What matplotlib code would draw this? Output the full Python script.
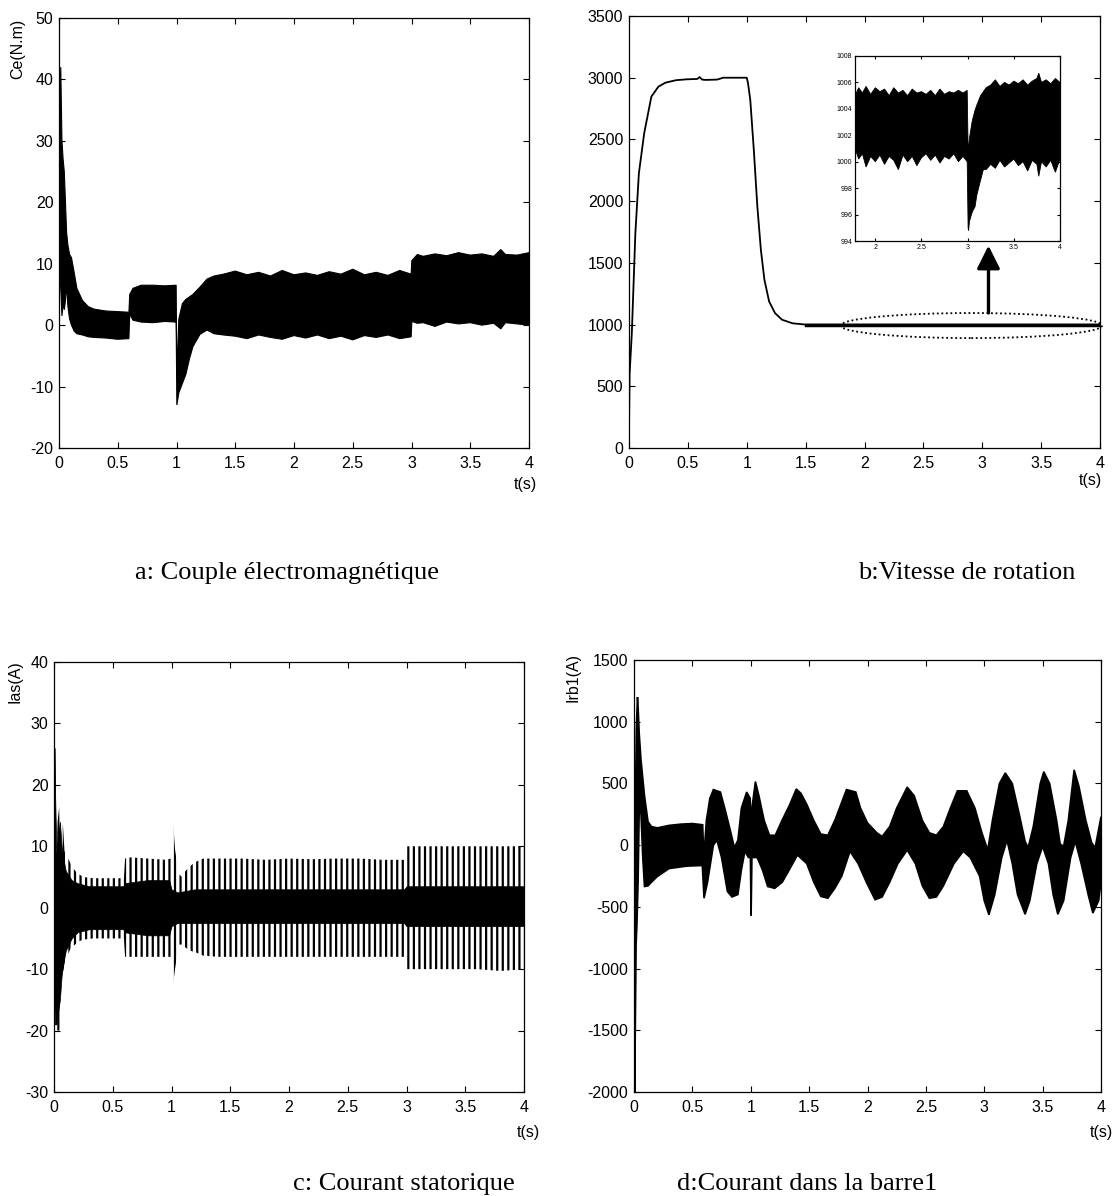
import numpy as np
import matplotlib
matplotlib.use("Agg")
import matplotlib.pyplot as plt
from matplotlib.patches import Ellipse
from matplotlib.ticker import FuncFormatter

# a: couple electromagnetique, enveloppe haute / basse
ce_t = [0, 0.008, 0.015, 0.025, 0.035, 0.045, 0.055, 0.065, 0.076, 0.09, 0.106, 0.13, 0.152, 0.2, 0.25, 0.3,
        0.4, 0.5, 0.595, 0.602, 0.63, 0.7, 0.8, 0.9, 0.997, 1.003, 1.02, 1.05, 1.08, 1.11, 1.14, 1.2, 1.26, 1.32,
        1.4, 1.5, 1.6, 1.7, 1.8, 1.9, 2.0, 2.1, 2.2, 2.3, 2.4, 2.5, 2.6, 2.7, 2.8, 2.9, 2.997, 3.003, 3.05, 3.1,
        3.2, 3.3, 3.4, 3.5, 3.6, 3.7, 3.76, 3.8, 3.9, 4.0]
ce_up = [10, 38, 42, 30, 27, 25, 20, 15, 13, 11.5, 11, 8.5, 6, 4, 3, 2.6,
         2.3, 2.2, 2.1, 5, 6, 6.5, 6.5, 6.4, 6.5, -8, 1, 3.5, 4.2, 4.6, 5, 6.2, 7.5, 8,
         8.3, 8.8, 8.2, 8.6, 8.0, 8.9, 8.2, 8.5, 8.1, 8.7, 8.3, 9.1, 8.2, 8.6, 8.1, 8.9, 8.3, 10.5, 11.5, 11.2,
         11.6, 11.3, 11.8, 11.4, 11.6, 11.2, 12.3, 11.5, 11.4, 11.8]
ce_lo = [8, 8, 6, 1.5, 3.5, 2.5, 4, 6.5, 3, 1, 0, -1, -1.4, -1.6, -1.9, -2,
         -2.1, -2.3, -2.2, 1.8, 0.8, 0.5, 0.4, 0.6, 0.5, -13, -11, -9.5, -8, -5.5, -3.5, -1.5, -0.8, -1.4,
         -1.6, -1.8, -2.2, -1.6, -2.0, -2.3, -1.7, -2.1, -1.6, -2.2, -1.8, -2.4, -1.7, -2.0, -1.6, -2.2, -1.9, 0.6, 0.3, 0.4,
         -0.2, 0.5, 0.2, 0.4, 0.0, 0.3, -0.6, 0.4, 0.2, 0.0]

# b: vitesse de rotation
sp_t = [0, 0.005, 0.024, 0.054, 0.084, 0.129, 0.19, 0.25, 0.31, 0.4, 0.49, 0.58, 0.6, 0.62, 0.65, 0.75, 0.8,
        0.9, 1.0, 1.01, 1.03, 1.06, 1.09, 1.12, 1.15, 1.19, 1.24, 1.3, 1.39, 1.5, 2.0, 2.5, 3.0, 3.5, 4.0]
sp = [150, 600, 930, 1740, 2226, 2550, 2847, 2928, 2960, 2980, 2987, 2990, 3005, 2985, 2982, 2985, 3000,
      3000, 3000, 2960, 2820, 2415, 1956, 1605, 1363, 1187, 1093, 1039, 1010, 1000, 1000, 1000, 1000, 1000, 1000]

# zoom de la vitesse (encart)
in_t = [1.78, 1.82, 1.86, 1.9, 1.95, 2.0, 2.05, 2.1, 2.15, 2.2, 2.25, 2.3, 2.35, 2.4, 2.45, 2.5, 2.55, 2.6,
        2.65, 2.7, 2.75, 2.8, 2.85, 2.9, 2.95, 2.995, 3.005, 3.01, 3.02, 3.05, 3.08, 3.1, 3.14, 3.17, 3.2, 3.25,
        3.3, 3.35, 3.4, 3.45, 3.5, 3.55, 3.6, 3.65, 3.7, 3.75, 3.77, 3.8, 3.85, 3.9, 3.95, 4.0]
in_up = [1005.0, 1005.6, 1005.2, 1005.7, 1005.1, 1005.6, 1005.3, 1005.5, 1005.0, 1005.6, 1005.2, 1005.4,
         1005.0, 1005.5, 1005.2, 1005.3, 1005.1, 1005.4, 1005.0, 1005.5, 1005.1, 1005.3, 1005.2, 1005.4,
         1005.2, 1005.4, 1001.0, 1001.0, 1001.8, 1003.1, 1003.9, 1004.3, 1005.0, 1005.3, 1005.6, 1005.8,
         1006.2, 1005.7, 1006.0, 1005.8, 1006.1, 1005.9, 1006.2, 1005.8, 1006.1, 1006.3, 1006.7, 1006.0,
         1006.2, 1005.9, 1006.3, 1006.0]
in_lo = [1001.0, 1000.2, 1000.6, 999.6, 1000.4, 1000.0, 1000.5, 999.8, 1000.4, 1000.1, 999.4, 1000.5,
         1000.0, 1000.4, 999.7, 1000.3, 1000.6, 1000.1, 1000.5, 999.9, 1000.4, 1000.2, 1000.6, 1000.0,
         1000.4, 1000.0, 995.0, 994.8, 995.5, 996.2, 996.6, 997.5, 998.6, 999.4, 999.4, 999.8,
         999.5, 1000.1, 999.6, 999.9, 1000.2, 999.7, 1000.0, 999.3, 1000.1, 999.8, 998.9, 1000.0,
         999.6, 1000.1, 999.2, 1000.2]

# c: courant statorique (enveloppe des oscillations + coeur dense)
ias_t = [0, 0.005, 0.01, 0.02, 0.03, 0.045, 0.055, 0.065, 0.076, 0.09, 0.1, 0.12, 0.146, 0.18, 0.207, 0.25,
         0.33, 0.45, 0.57, 0.595, 0.605, 0.65, 0.8, 0.95, 0.995, 1.0, 1.01, 1.03, 1.06, 1.09, 1.12, 1.16, 1.21,
         1.27, 1.4, 1.6, 1.8, 2.0, 2.2, 2.4, 2.6, 2.8, 2.95, 2.995, 3.005, 3.2, 3.4, 3.6, 3.8, 4.0]
ias_up = [0, 27.5, 27.5, 10, 14, 16.5, 12, 13.5, 13.5, 9, 9.8, 8, 7, 6, 5.5, 5, 4.8, 4.8, 4.8, 4.8,
          8, 8.2, 8, 7.8, 8, 15.2, 15, 9.5, 5.5, 5, 6, 6.8, 7.5, 8, 8, 8, 7.8, 8, 7.9, 8,
          8, 7.8, 7.8, 7.8, 10, 10, 10, 10, 10, 10]
ias_lo = [0, -17, -20, -20, -20, -20, -20, -12, -10.5, -9, -8, -7.5, -6.5, -6, -5.5, -5.2, -5, -5, -5, -5,
          -8, -8, -8, -8, -8, -13, -13, -10, -6, -6, -6.5, -7, -7.3, -7.8, -8, -8, -8, -8, -8, -8,
          -8, -8, -8, -8, -10, -10, -10, -10, -10.3, -10]
core_t = [0, 0.004, 0.008, 0.02, 0.035, 0.05, 0.065, 0.08, 0.1, 0.15, 0.2, 0.3, 0.45, 0.59, 0.6, 0.8, 0.98,
          1.0, 1.05, 1.2, 1.5, 2.0, 2.5, 2.98, 3.0, 3.5, 4.0]
core_up = [0, 26, 20, 9, 12, 14, 10, 8, 6, 4.5, 4, 3.5, 3.5, 3.5, 4, 4.5, 4.5, 3, 2.5, 3, 3, 3, 3, 3, 3.5, 3.5, 3.5]
core_lo = [0, -16, -19, -19, -17, -15, -11, -9, -7, -5, -4, -3.5, -3.5, -3.5, -4, -4.5, -4.5, -3, -2.5, -2.5, -2.5,
           -2.5, -2.5, -2.5, -3, -3, -3]

# d: courant dans la barre 1
irb_t_up = [0.0, 0.006, 0.012, 0.02, 0.03, 0.036, 0.045, 0.06, 0.09, 0.12, 0.15, 0.2, 0.3, 0.4, 0.5, 0.588,
            0.598, 0.62, 0.65, 0.68, 0.74, 0.78, 0.83, 0.86, 0.89, 0.92, 0.965, 0.995, 1.0, 1.01, 1.04, 1.07,
            1.115, 1.16, 1.21, 1.27, 1.33, 1.39, 1.43, 1.48, 1.54, 1.6, 1.66, 1.72, 1.78, 1.82, 1.9, 1.94, 2.0,
            2.08, 2.125, 2.19, 2.25, 2.34, 2.4, 2.47, 2.53, 2.59, 2.65, 2.71, 2.77, 2.85, 2.92, 2.98, 3.03,
            3.07, 3.13, 3.18, 3.24, 3.30, 3.35, 3.376, 3.42, 3.48, 3.51, 3.56, 3.62, 3.65, 3.68, 3.72, 3.77,
            3.81, 3.87, 3.92, 3.95, 4.0]
irb_up = [-700, -500, 300, 950, 1200, 1100, 900, 690, 400, 190, 150, 140, 160, 170, 175, 165,
          -100, 200, 380, 450, 430, 290, 100, -20, 40, 300, 430, 380, 150, 300, 515, 400,
          200, 80, 80, 205, 320, 455, 420, 330, 200, 90, 80, 200, 350, 450, 430, 300, 180,
          100, 70, 150, 300, 470, 400, 200, 100, 80, 150, 300, 440, 440, 300, 100, -40,
          200, 500, 585, 500, 250, 30, -20, 150, 500, 595, 500, 200, 10, -10, 200, 610,
          480, 200, 20, -20, 230]
irb_t_lo = [0.0, 0.006, 0.012, 0.018, 0.025, 0.035, 0.045, 0.06, 0.075, 0.09, 0.12, 0.15, 0.2, 0.3, 0.45,
            0.585, 0.6, 0.63, 0.68, 0.71, 0.75, 0.8, 0.84, 0.89, 0.92, 0.95, 0.98, 0.997, 1.003, 1.01, 1.055,
            1.10, 1.145, 1.205, 1.27, 1.33, 1.40, 1.48, 1.54, 1.6, 1.66, 1.72, 1.78, 1.85, 1.92, 1.99, 2.065,
            2.125, 2.19, 2.26, 2.34, 2.41, 2.47, 2.53, 2.59, 2.65, 2.74, 2.82, 2.88, 2.96, 3.0, 3.04, 3.09,
            3.15, 3.195, 3.24, 3.285, 3.35, 3.39, 3.45, 3.50, 3.55, 3.59, 3.63, 3.68, 3.74, 3.78, 3.83, 3.89,
            3.93, 3.98, 4.0]
irb_lo = [-1300, -2000, -1400, -800, -650, -300, 300, 250, -100, -335, -330, -300, -254, -190, -170,
          -165, -430, -300, 0, 40, -100, -375, -420, -400, -200, -50, -100, -100, -570, -100, -100,
          -200, -335, -350, -300, -200, -80, -150, -300, -415, -430, -350, -250, -50, -150, -300, -442,
          -420, -300, -150, -40, -150, -330, -430, -420, -330, -150, -50, -100, -250, -450, -564, -400,
          -100, 40, -150, -400, -560, -450, -150, -10, -150, -400, -560, -450, -100, 30, -150, -400,
          -550, -450, -300]

W, H = 1112, 1196
tick_font = ['Liberation Sans Narrow', 'Liberation Sans', 'DejaVu Sans']
plt.rcParams['font.family'] = tick_font
plt.rcParams['hatch.linewidth'] = 1.6

fig = plt.figure(figsize=(W / 100, H / 100), dpi=100)


def px_axes(x0, y0, x1, y1):
    return fig.add_axes([x0 / W, 1 - y1 / H, (x1 - x0) / W, (y1 - y0) / H])


def style(ax, xlim, ylim, yticks, fs=11.5):
    ax.set_xlim(xlim)
    ax.set_ylim(ylim)
    ax.set_yticks(yticks)
    ax.tick_params(direction='in', top=True, right=True, length=4, width=0.8, labelsize=fs)
    ax.tick_params(axis='x', pad=6)
    ax.tick_params(axis='y', pad=4)
    ax.xaxis.set_major_formatter(FuncFormatter(lambda v, p: '%g' % v))
    ax.yaxis.set_major_formatter(FuncFormatter(lambda v, p: '%g' % v))
    for s in ax.spines.values():
        s.set_linewidth(0.9)


def envelope(ax, t_up, up, t_lo, lo, **kw):
    xs = np.r_[t_up, t_lo[::-1]]
    ys = np.r_[up, lo[::-1]]
    ax.fill(xs, ys, **kw)


# a
ax_a = px_axes(59, 18, 529, 448)
envelope(ax_a, ce_t, ce_up, ce_t, ce_lo, color='black', lw=0.8)
style(ax_a, (0, 4), (-20, 50), np.arange(-20, 51, 10))
ax_a.set_xticks(np.arange(0, 4.01, 0.5))

# b
ax_b = px_axes(629, 16, 1100, 448)
ax_b.plot(sp_t, sp, color='black', lw=1.3)
ax_b.plot(sp_t[-6:], sp[-6:], color='black', lw=2.5)
style(ax_b, (0, 4), (0, 3500), np.arange(0, 3501, 500))
ax_b.set_xticks(np.arange(0, 4.01, 0.5))
ax_b.add_patch(Ellipse((2.907, 992), 2.22, 203, fill=False, ls=(0, (1, 1.5)), lw=1.3,
                       edgecolor='black', clip_on=False))
ax_b.annotate('', xy=(3.053, 1640), xytext=(3.053, 1094),
              arrowprops=dict(arrowstyle='-|>,head_length=0.7,head_width=0.35', lw=2.4,
                              color='black', mutation_scale=20, shrinkA=0, shrinkB=0))

ax_in = px_axes(855, 56, 1060, 241)
envelope(ax_in, in_t, in_up, in_t, in_lo, color='black', lw=0.6)
style(ax_in, (1.78, 4), (994, 1008), np.arange(994, 1009, 2), fs=5)
ax_in.set_xticks([2, 2.5, 3, 3.5, 4])
ax_in.tick_params(length=2, pad=2)

# c
ax_c = px_axes(54, 662, 524, 1092)
ax_c.fill_between(ias_t, ias_lo, ias_up, facecolor='white', edgecolor='black', hatch='|||', lw=0)
ax_c.fill_between(core_t, core_lo, core_up, color='black', lw=0.5)
style(ax_c, (0, 4), (-30, 40), np.arange(-30, 41, 10))
ax_c.set_xticks(np.arange(0, 4.01, 0.5))

# d
ax_d = px_axes(634, 660, 1101, 1092)
envelope(ax_d, irb_t_up, irb_up, irb_t_lo, irb_lo, color='black', lw=1.2)
style(ax_d, (0, 4), (-2000, 1500), np.arange(-2000, 1501, 500))
ax_d.set_xticks(np.arange(0, 4.01, 0.5))

# labels des axes
lab = dict(fontsize=11.5, family=tick_font)
fig.text(18 / W, 1 - 19 / H, 'Ce(N.m)', rotation=90, ha='center', va='top', **lab)
fig.text(15 / W, 1 - 660 / H, 'Ias(A)', rotation=90, ha='center', va='top', **lab)
fig.text(573 / W, 1 - 653 / H, 'Irb1(A)', rotation=90, ha='center', va='top', **lab)
for x, y in [(525, 484), (1090, 481), (528, 1132), (1101, 1132)]:
    fig.text(x / W, 1 - y / H, 't(s)', ha='center', va='center', **lab)

# legendes
cap = dict(fontsize=19, family=['Liberation Serif', 'DejaVu Serif'], va='baseline', ha='left')
fig.text(135 / W, 1 - 579 / H, 'a: Couple électromagnétique', **cap)
fig.text(858 / W, 1 - 579 / H, 'b:Vitesse de rotation', **cap)
fig.text(293 / W, 1 - 1190 / H, 'c: Courant statorique', **cap)
fig.text(677 / W, 1 - 1190 / H, 'd:Courant dans la barre1', **cap)

fig.savefig('out.png', dpi=100)
